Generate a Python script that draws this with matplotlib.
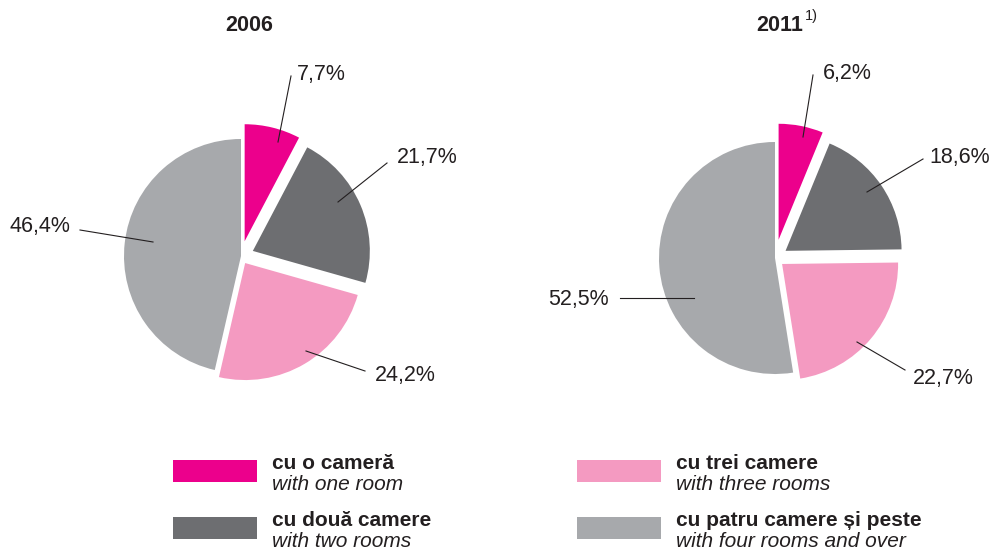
import matplotlib
matplotlib.use("Agg")
import matplotlib.pyplot as plt
from matplotlib.patches import Rectangle

plt.rcParams['font.family'] = ['Liberation Sans', 'DejaVu Sans']

# data
years = ["2006", "2011"]
share_2006 = [7.7, 21.7, 24.2, 46.4]
share_2011 = [6.2, 18.6, 22.7, 52.5]
labels_ro = ["cu o cameră", "cu două camere", "cu trei camere", "cu patru camere și peste"]
labels_en = ["with one room", "with two rooms", "with three rooms", "with four rooms and over"]
colors = ["#ec008c", "#6d6e71", "#f49ac1", "#a7a9ac"]
txt = "#231f20"

# layout, in pixels of the 990x551 picture (y down)
pies = [
    dict(values=share_2006, center=(241, 256), radius=117, explode=[0.13, 0.11, 0.07, 0.0],
         anchors=[(278, 142), (338, 202), (306, 351), (153, 242)],
         ends=[(291, 76), (387, 163), (365, 371), (80, 230)],
         texts=[(297, 80, 'left'), (397, 163, 'left'), (375, 381, 'left'), (70, 232, 'right')]),
    dict(values=share_2011, center=(775, 258), radius=116, explode=[0.16, 0.11, 0.08, 0.0],
         anchors=[(803, 137), (867, 192), (857, 342), (694, 298)],
         ends=[(813, 75), (923, 159), (905, 370), (620, 298)],
         texts=[(823, 79, 'left'), (929, 163, 'left'), (913, 384, 'left'), (609, 305, 'right')]),
]

fig = plt.figure(figsize=(9.9, 5.51), dpi=100)
ax = fig.add_axes([0, 0, 1, 1])

for p in pies:
    r = p["radius"]
    ax.pie(p["values"], colors=colors, startangle=-90, counterclock=True,
           explode=[e * r for e in p["explode"]], radius=r, center=p["center"],
           wedgeprops=dict(linewidth=0))
    for v, a, e, t in zip(p["values"], p["anchors"], p["ends"], p["texts"]):
        ax.plot([a[0], e[0]], [a[1], e[1]], color=txt, lw=0.8)
        ax.text(t[0], t[1], f"{v:.1f}%".replace(".", ","), ha=t[2], va='baseline',
                fontsize=15.5, color=txt)

# titles
ax.text(249, 31, years[0], ha='center', va='baseline', fontsize=15.5, fontweight='bold', color=txt)
ax.text(780, 31, years[1], ha='center', va='baseline', fontsize=15.5, fontweight='bold', color=txt)
ax.text(805, 20, "1)", ha='left', va='baseline', fontsize=10.5, color=txt)

# legend
legend_pos = [(173, 460), (173, 517), (577, 460), (577, 517)]
for (x, y), c, ro, en in zip(legend_pos, colors, labels_ro, labels_en):
    ax.add_patch(Rectangle((x, y), 84, 22, facecolor=c, edgecolor='none'))
    ax.text(x + 99, y + 9, ro, ha='left', va='baseline', fontsize=15, fontweight='bold', color=txt)
    ax.text(x + 99, y + 30, en, ha='left', va='baseline', fontsize=15, style='italic', color=txt)

ax.set_xlim(0, 990)
ax.set_ylim(551, 0)
ax.set_aspect('auto')
ax.axis('off')

fig.savefig("out.png", dpi=100)
